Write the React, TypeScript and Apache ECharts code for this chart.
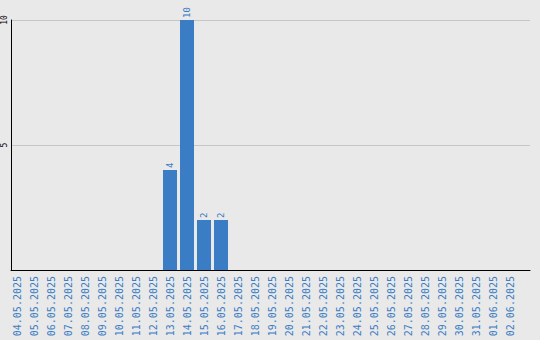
import React, { useEffect, useRef } from "react";
import * as echarts from "echarts";

// Daily counts, 04.05.2025 – 02.06.2025
const dates: string[] = [
  "04.05.2025", "05.05.2025", "06.05.2025", "07.05.2025", "08.05.2025",
  "09.05.2025", "10.05.2025", "11.05.2025", "12.05.2025", "13.05.2025",
  "14.05.2025", "15.05.2025", "16.05.2025", "17.05.2025", "18.05.2025",
  "19.05.2025", "20.05.2025", "21.05.2025", "22.05.2025", "23.05.2025",
  "24.05.2025", "25.05.2025", "26.05.2025", "27.05.2025", "28.05.2025",
  "29.05.2025", "30.05.2025", "31.05.2025", "01.06.2025", "02.06.2025",
];
const counts: number[] = [
  0, 0, 0, 0, 0, 0, 0, 0, 0, 4,
  10, 2, 2, 0, 0, 0, 0, 0, 0, 0,
  0, 0, 0, 0, 0, 0, 0, 0, 0, 0,
];
const yMax = 10;
const yStep = 5;

const BLUE = "#3b7dc4";
const MONO = "DejaVu Sans Mono";

export default function App() {
  const ref = useRef<HTMLDivElement>(null);

  useEffect(() => {
    if (!ref.current) return;
    const chart = echarts.init(ref.current, undefined, { renderer: "svg" });
    chart.setOption({
      animation: false,
      backgroundColor: "#e9e9e9",
      grid: [
        // frame: axis lines and grid lines
        { left: 11, right: 10, top: 20, bottom: 70 },
        // bars
        { left: 8.5, width: 510, top: 20, bottom: 70 },
      ],
      xAxis: [
        {
          gridIndex: 0,
          type: "value",
          min: 0,
          max: 1,
          axisLine: { show: true, lineStyle: { color: "#000", width: 1 } },
          axisTick: { show: false },
          axisLabel: { show: false },
          splitLine: { show: false },
        },
        {
          gridIndex: 1,
          type: "category",
          data: dates,
          axisLine: { show: false },
          axisTick: { show: false },
          splitLine: { show: false },
          axisLabel: {
            rotate: 90,
            interval: 0,
            margin: 6,
            color: BLUE,
            fontFamily: MONO,
            fontSize: 10,
          },
        },
      ],
      yAxis: [
        {
          gridIndex: 0,
          type: "value",
          min: 0,
          max: yMax,
          interval: yStep,
          axisLine: { show: true, lineStyle: { color: "#000", width: 1 } },
          axisTick: { show: false },
          splitLine: { show: true, lineStyle: { color: "#c6c6c6", width: 1 } },
          axisLabel: {
            showMinLabel: false,
            rotate: 90,
            margin: 3,
            color: "#000",
            fontFamily: MONO,
            fontSize: 8,
          },
        },
        {
          gridIndex: 1,
          type: "value",
          min: 0,
          max: yMax,
          interval: yStep,
          show: false,
          splitLine: { show: false },
        },
      ],
      series: [
        {
          type: "bar",
          xAxisIndex: 1,
          yAxisIndex: 1,
          data: counts,
          barWidth: 14,
          itemStyle: { color: BLUE },
          label: {
            show: true,
            position: "top",
            rotate: 90,
            align: "left",
            verticalAlign: "middle",
            distance: 2,
            color: BLUE,
            fontFamily: MONO,
            fontSize: 9,
            formatter: (p: any) => (p.value > 0 ? String(p.value) : ""),
          },
        },
      ],
    });
    return () => chart.dispose();
  }, []);

  return (
    <div
      ref={ref}
      style={{ position: "absolute", left: 0, top: 0, width: 540, height: 340 }}
    />
  );
}
